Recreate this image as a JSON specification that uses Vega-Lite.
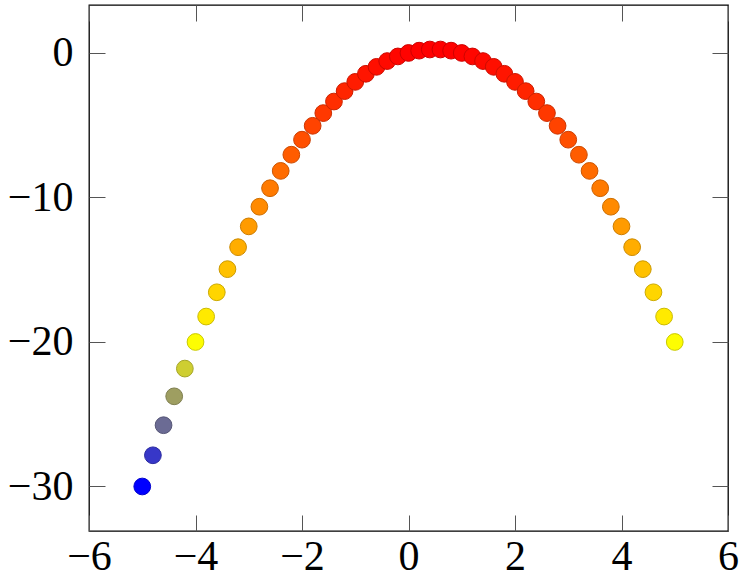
{
  "$schema": "https://vega.github.io/schema/vega-lite/v6.json",
  "autosize": "none",
  "width": 639,
  "height": 526,
  "padding": {"left": 89, "top": 5, "right": 14, "bottom": 47},
  "config": {
    "view": {"stroke": "#000000", "strokeWidth": 1.3},
    "axis": {"domain": false, "grid": false, "labelFont": "Liberation Serif", "labelFontSize": 42, "labelColor": "#000000", "tickColor": "#555555", "tickWidth": 1, "tickSize": 16}
  },
  "data": {"values": [
    {"x": -5, "y": -30}, {"x": -4.8, "y": -27.84}, {"x": -4.6, "y": -25.76}, {"x": -4.4, "y": -23.76}, {"x": -4.2, "y": -21.84},
    {"x": -4, "y": -20}, {"x": -3.8, "y": -18.24}, {"x": -3.6, "y": -16.56}, {"x": -3.4, "y": -14.96}, {"x": -3.2, "y": -13.44},
    {"x": -3, "y": -12}, {"x": -2.8, "y": -10.64}, {"x": -2.6, "y": -9.36}, {"x": -2.4, "y": -8.16}, {"x": -2.2, "y": -7.04},
    {"x": -2, "y": -6}, {"x": -1.8, "y": -5.04}, {"x": -1.6, "y": -4.16}, {"x": -1.4, "y": -3.36}, {"x": -1.2, "y": -2.64},
    {"x": -1, "y": -2}, {"x": -0.8, "y": -1.44}, {"x": -0.6, "y": -0.96}, {"x": -0.4, "y": -0.56}, {"x": -0.2, "y": -0.24},
    {"x": 0, "y": 0}, {"x": 0.2, "y": 0.16}, {"x": 0.4, "y": 0.24}, {"x": 0.6, "y": 0.24}, {"x": 0.8, "y": 0.16},
    {"x": 1, "y": 0}, {"x": 1.2, "y": -0.24}, {"x": 1.4, "y": -0.56}, {"x": 1.6, "y": -0.96}, {"x": 1.8, "y": -1.44},
    {"x": 2, "y": -2}, {"x": 2.2, "y": -2.64}, {"x": 2.4, "y": -3.36}, {"x": 2.6, "y": -4.16}, {"x": 2.8, "y": -5.04},
    {"x": 3, "y": -6}, {"x": 3.2, "y": -7.04}, {"x": 3.4, "y": -8.16}, {"x": 3.6, "y": -9.36}, {"x": 3.8, "y": -10.64},
    {"x": 4, "y": -12}, {"x": 4.2, "y": -13.44}, {"x": 4.4, "y": -14.96}, {"x": 4.6, "y": -16.56}, {"x": 4.8, "y": -18.24},
    {"x": 5, "y": -20}
  ]},
  "layer": [
    {
      "mark": {"type": "point", "filled": false, "opacity": 0},
      "encoding": {
        "x": {"field": "x", "type": "quantitative", "scale": {"domain": [-6, 6], "nice": false, "zero": false},
              "axis": {"orient": "top", "title": null, "labels": false, "offset": -16, "values": [-6, -4, -2, 0, 2, 4, 6]}},
        "y": {"field": "y", "type": "quantitative", "scale": {"domain": [-33.08, 3.32], "nice": false, "zero": false},
              "axis": {"orient": "right", "title": null, "labels": false, "offset": -16, "values": [-30, -20, -10, 0]}}
      }
    },
    {
      "mark": {"type": "point", "filled": false, "opacity": 0},
      "encoding": {
        "x": {"field": "x", "type": "quantitative",
              "axis": {"orient": "bottom", "title": null, "labels": false, "offset": -16, "values": [-6, -4, -2, 0, 2, 4, 6]}},
        "y": {"field": "y", "type": "quantitative",
              "axis": {"orient": "left", "title": null, "labels": false, "offset": -16, "values": [-30, -20, -10, 0]}}
      }
    },
    {
      "mark": {"type": "point", "filled": true, "shape": "circle", "size": 280, "strokeWidth": 1, "opacity": 1},
      "encoding": {
        "x": {"field": "x", "type": "quantitative",
              "axis": {"orient": "bottom", "title": null, "ticks": false, "values": [-6, -4, -2, 0, 2, 4, 6], "labelPadding": 5, "labelFlush": false}},
        "y": {"field": "y", "type": "quantitative",
              "axis": {"orient": "left", "title": null, "ticks": false, "values": [-30, -20, -10, 0], "labelPadding": 16}},
        "color": {"field": "y", "type": "quantitative", "legend": null,
                  "scale": {"type": "linear", "domain": [-30, -19.92, -9.84, 0.24], "range": ["#0000ff", "#ffff00", "#ff8000", "#ff0000"], "interpolate": "rgb"}},
        "stroke": {"field": "y", "type": "quantitative", "legend": null,
                  "scale": {"type": "linear", "domain": [-30, -19.92, -9.84, 0.24], "range": ["#0000cc", "#cccc00", "#cc6600", "#cc0000"], "interpolate": "rgb"}}
      }
    }
  ],
  "resolve": {"axis": {"x": "independent", "y": "independent"}}
}
